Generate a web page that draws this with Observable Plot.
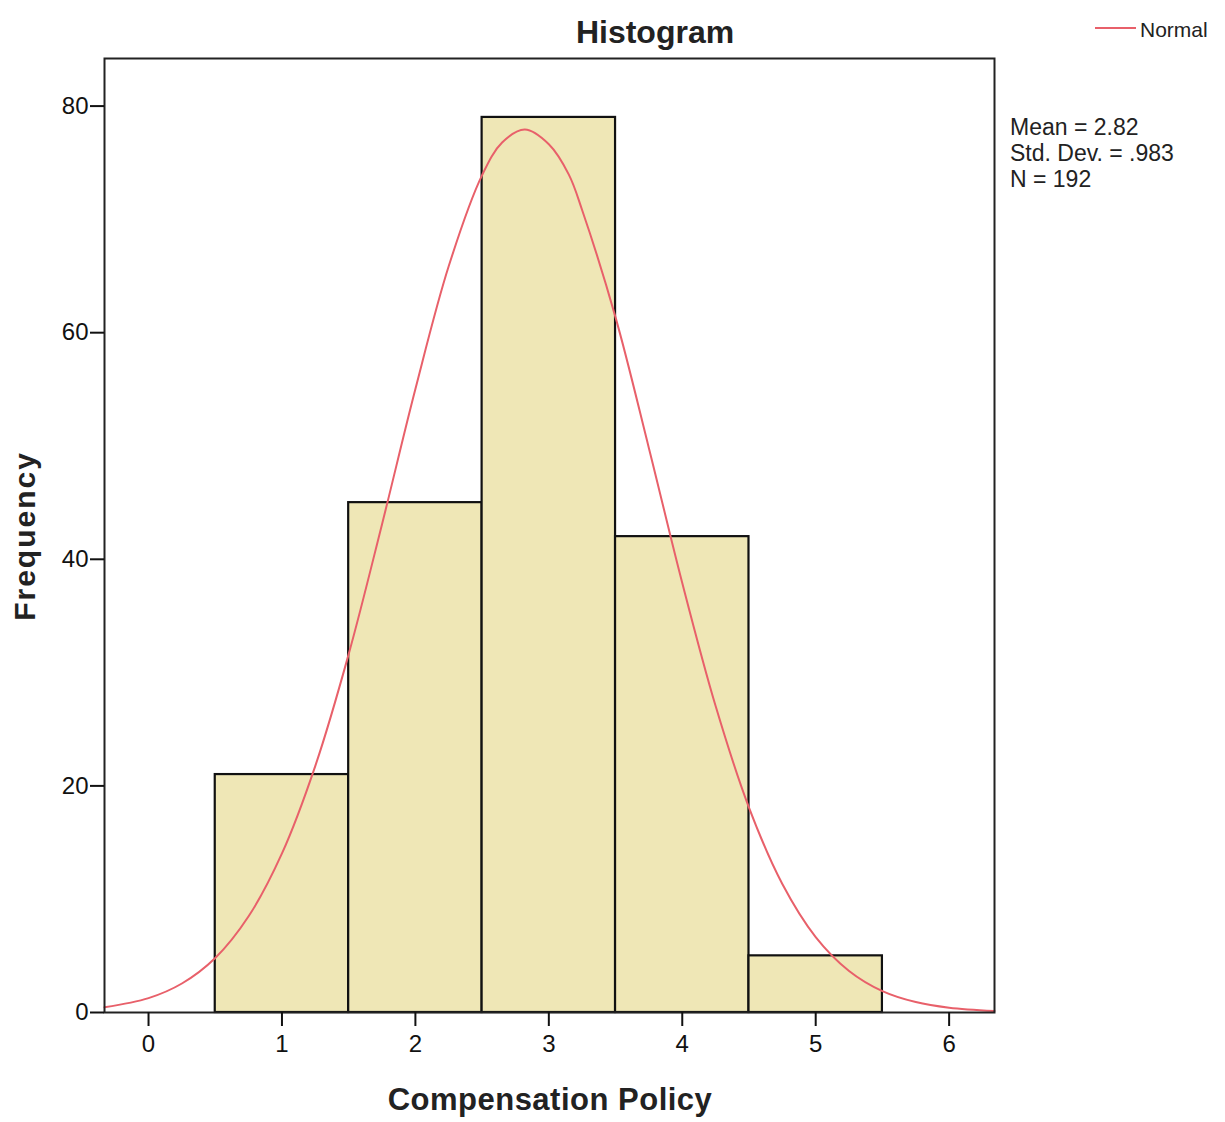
<!DOCTYPE html>
<html>
<head>
<meta charset="utf-8">
<script src="https://cdn.jsdelivr.net/npm/d3@7"></script>
<script src="https://cdn.jsdelivr.net/npm/@observablehq/plot@0.6"></script>
<style>
  html, body { margin: 0; padding: 0; background: #ffffff; }
  #chart { width: 1225px; height: 1122px; }
  svg { font-family: "Liberation Sans", Arial, sans-serif; }
</style>
</head>
<body>
<div id="chart"></div>
<script>
// Histogram bins (Compensation Policy) and frequencies
const binStart = [0.5, 1.5, 2.5, 3.5, 4.5];
const binEnd   = [1.5, 2.5, 3.5, 4.5, 5.5];
const counts   = [21, 45, 79, 42, 5];

// Normal curve (x, frequency)
const curveX = [-0.33, 0, 0.25, 0.5, 0.75, 1, 1.25, 1.5, 1.75, 2, 2.25, 2.5, 2.65, 2.82, 3, 3.15, 3.25, 3.5, 3.75, 4, 4.25, 4.5, 4.75, 5, 5.25, 5.5, 5.75, 6, 6.34];
const curveY = [0.46, 1.27, 2.56, 4.81, 8.49, 14.04, 21.77, 31.63, 43.10, 55.03, 65.88, 73.91, 76.78, 77.93, 76.63, 73.95, 70.81, 61.35, 49.81, 37.91, 27.05, 18.09, 11.34, 6.66, 3.67, 1.89, 0.92, 0.42, 0.13];

const xTicks = [0, 1, 2, 3, 4, 5, 6];
const yTicks = [0, 20, 40, 60, 80];

const statsLines = ["Mean = 2.82", "Std. Dev. = .983", "N = 192"];
const titleText = "Histogram";
const xLabel = "Compensation Policy";
const yLabel = "Frequency";
const legendText = "Normal";

const bars = binStart.map((s, i) => ({x1: s, x2: binEnd[i], y: counts[i]}));
const curve = curveX.map((x, i) => ({x, y: curveY[i]}));

const W = 1225, H = 1122;
const mL = 104, mR = 231, mT = 58, mB = 110;

const plot = Plot.plot({
  width: W,
  height: H,
  marginLeft: mL,
  marginRight: mR,
  marginTop: mT,
  marginBottom: mB,
  style: {fontFamily: "'Liberation Sans', Arial, sans-serif", fontSize: "24px", color: "#111", background: "#ffffff"},
  x: {domain: [-0.33, 6.34], ticks: xTicks, tickFormat: d3.format("d"), label: null, tickSize: 14, tickPadding: 8},
  y: {domain: [0, 84.2], ticks: yTicks, tickFormat: d3.format("d"), label: null, tickSize: 14, tickPadding: 2},
  marks: [
    Plot.rectY(bars, {x1: "x1", x2: "x2", y: "y", fill: "#EFE7B6", stroke: "#111", strokeWidth: 2.2}),
    Plot.line(curve, {x: "x", y: "y", stroke: "#E8606A", strokeWidth: 2, curve: "catmull-rom"}),
    Plot.frame({stroke: "#222", strokeWidth: 2}),
    Plot.axisX({ticks: xTicks, tickSize: 14, tickPadding: 8, strokeWidth: 2, tickFormat: d3.format("d"), label: null}),
    Plot.axisY({ticks: yTicks, tickSize: 14, tickPadding: 2, strokeWidth: 2, tickFormat: d3.format("d"), label: null})
  ]
});

document.getElementById("chart").appendChild(plot);

const svg = d3.select(plot);
const ff = "'Liberation Sans', Arial, sans-serif";

svg.append("text").attr("x", 655).attr("y", 43).attr("text-anchor", "middle")
  .attr("font-family", ff).attr("font-size", 32).attr("font-weight", "bold").attr("fill", "#222")
  .text(titleText);

svg.append("line").attr("x1", 1095).attr("x2", 1136).attr("y1", 28).attr("y2", 28)
  .attr("stroke", "#E8606A").attr("stroke-width", 2);
svg.append("text").attr("x", 1140).attr("y", 37).attr("text-anchor", "start")
  .attr("font-family", ff).attr("font-size", 21).attr("fill", "#222").text(legendText);

statsLines.forEach((t, i) => {
  svg.append("text").attr("x", 1010).attr("y", 135 + i * 26).attr("text-anchor", "start")
    .attr("font-family", ff).attr("font-size", 23).attr("fill", "#222").text(t);
});

svg.append("text").attr("x", 550).attr("y", 1110).attr("text-anchor", "middle")
  .attr("font-family", ff).attr("font-size", 31).attr("font-weight", "bold").attr("fill", "#222")
  .attr("letter-spacing", 0.5)
  .text(xLabel);

svg.append("text").attr("transform", "translate(35,536) rotate(-90)").attr("text-anchor", "middle")
  .attr("font-family", ff).attr("font-size", 30).attr("font-weight", "bold").attr("fill", "#222")
  .attr("letter-spacing", 2)
  .text(yLabel);
</script>
</body>
</html>
